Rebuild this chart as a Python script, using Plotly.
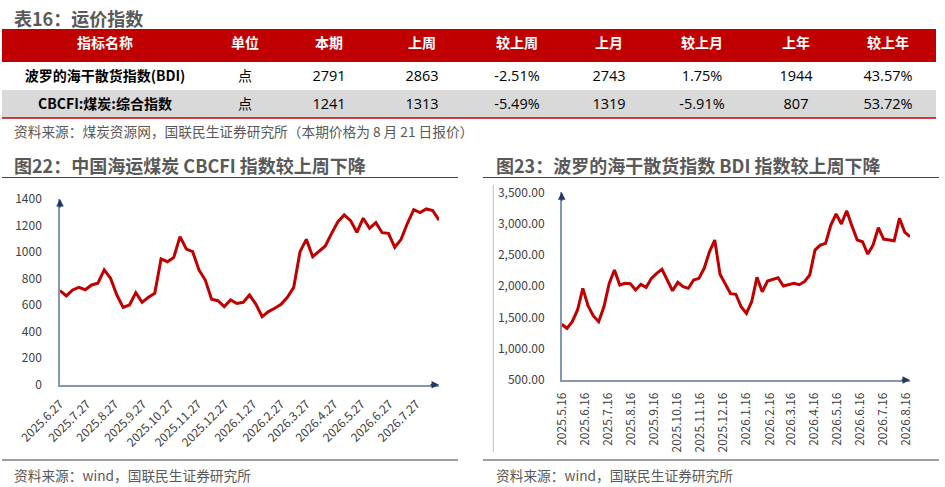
import pandas as pd
import plotly.graph_objects as go

# ---- table 16 data
table_header = ["指标名称", "单位", "本期", "上周", "较上周", "上月", "较上月", "上年", "较上年"]
index_names = ["波罗的海干散货指数(BDI)", "CBCFI:煤炭:综合指数"]
units = ["点", "点"]
this_week = [2791, 1241]
last_week = [2863, 1313]
wow = ["-2.51%", "-5.49%"]
last_month = [2743, 1319]
mom = ["1.75%", "-5.91%"]
last_year = [1944, 807]
yoy = ["43.57%", "53.72%"]

# ---- fig 22: CBCFI weekly
cbcfi_start = "2025-06-27"
cbcfi = [
    710, 669, 714, 734, 716, 752, 765, 865, 802, 676,
    583, 601, 694, 621, 659, 689, 948, 927, 958, 1116,
    1023, 1003, 865, 789, 644, 633, 588, 639, 612, 621,
    676, 608, 513, 551, 576, 606, 659, 734, 1003, 1096,
    965, 1003, 1046, 1141, 1229, 1280, 1237, 1149, 1255, 1179,
    1222, 1146, 1141, 1036, 1096, 1217, 1319, 1297, 1325, 1313,
    1241,
]
cbcfi_ticks = [
    "2025.6.27", "2025.7.27", "2025.8.27", "2025.9.27", "2025.10.27",
    "2025.11.27", "2025.12.27", "2026.1.27", "2026.2.27", "2026.3.27",
    "2026.4.27", "2026.5.27", "2026.6.27", "2026.7.27",
]

# ---- fig 23: BDI weekly
bdi_start = "2025-05-16"
bdi = [
    1390, 1326, 1432, 1619, 1965, 1683, 1523, 1432, 1671, 2045,
    2258, 2018, 2045, 2040, 1938, 2029, 1981, 2125, 2205, 2269,
    2098, 1927, 2061, 1991, 1965, 2098, 2125, 2285, 2551, 2737,
    2190, 2030, 1880, 1870, 1671, 1565, 1751, 2141, 1911, 2082,
    2109, 2135, 2002, 2029, 2045, 2023, 2071, 2178, 2577, 2657,
    2684, 2977, 3153, 2993, 3205, 2961, 2737, 2710, 2513, 2657,
    2934, 2753, 2743, 2726, 3084, 2863, 2791,
]
bdi_ticks = [
    "2025.5.16", "2025.6.16", "2025.7.16", "2025.8.16", "2025.9.16",
    "2025.10.16", "2025.11.16", "2025.12.16", "2026.1.16", "2026.2.16",
    "2026.3.16", "2026.4.16", "2026.5.16", "2026.6.16", "2026.7.16",
    "2026.8.16",
]

W, H = 945, 487
FONT = "Noto Sans CJK SC, Noto Sans, sans-serif"
NUM_FONT = "Open Sans, Noto Sans CJK SC, sans-serif"
RED = "#C00000"
GREY_TXT = "#595959"
AX_LINE = "#8497B0"
AX_HEAD = "#1F3864"


def px(x):
    return x / W


def py(y):
    return 1 - y / H


cbcfi_dates = pd.date_range(cbcfi_start, periods=len(cbcfi), freq="7D")
bdi_dates = pd.date_range(bdi_start, periods=len(bdi), freq="7D")
cbcfi_tickvals = [pd.to_datetime(t, format="%Y.%m.%d") for t in cbcfi_ticks]
bdi_tickvals = [pd.to_datetime(t, format="%Y.%m.%d") for t in bdi_ticks]

fig = go.Figure()

# table (no html tags in the cells, so plotly keeps the given row heights)
fig.add_trace(
    go.Table(
        domain=dict(x=[px(2), px(936)], y=[py(125), py(29)]),
        columnwidth=[206, 74, 94, 92, 98, 86, 100, 88, 96],
        header=dict(
            values=table_header,
            fill_color=RED,
            line=dict(color=RED, width=0),
            align="center",
            font=dict(family=FONT, size=14, color="white", weight="bold"),
            height=33,
        ),
        cells=dict(
            values=[
                index_names,
                units,
                this_week,
                last_week,
                wow,
                last_month,
                mom,
                last_year,
                yoy,
            ],
            fill_color=[["white", "#D9D9D9"]] * 9,
            line=dict(color=[["white", "#D9D9D9"]] * 9, width=0),
            align="center",
            font=dict(
                family=[FONT, FONT] + [NUM_FONT] * 7,
                size=[14, 14] + [14.5] * 7,
                color="#000000",
                weight=["bold"] + ["normal"] * 8,
            ),
            height=28,
        ),
    )
)

# lines
fig.add_trace(
    go.Scatter(
        x=cbcfi_dates, y=cbcfi, mode="lines",
        line=dict(color=RED, width=3), xaxis="x", yaxis="y",
        showlegend=False,
    )
)
fig.add_trace(
    go.Scatter(
        x=bdi_dates, y=bdi, mode="lines",
        line=dict(color=RED, width=3), xaxis="x2", yaxis="y2",
        showlegend=False,
    )
)

tick_font = dict(family=FONT, size=12, color="#404040")
common = dict(
    showgrid=False, zeroline=False, showline=True, linecolor=AX_LINE,
    linewidth=1.5, ticks="outside", tickcolor="rgba(0,0,0,0)",
    tickfont=tick_font, fixedrange=True, automargin=False,
)

fig.update_layout(
    width=W,
    height=H,
    autosize=False,
    margin=dict(l=0, r=0, t=0, b=0, pad=0, autoexpand=False),
    paper_bgcolor="white",
    plot_bgcolor="white",
    font=dict(family=FONT),
    showlegend=False,
    xaxis=dict(
        domain=[px(60), px(439)], anchor="y", type="date",
        range=[cbcfi_dates[0], cbcfi_dates[-1]],
        tickvals=cbcfi_tickvals, ticktext=cbcfi_ticks, tickangle=-45,
        ticklen=6, **common,
    ),
    yaxis=dict(
        domain=[py(384.7), py(199)], anchor="x", range=[0, 1400],
        tickvals=list(range(0, 1401, 200)), ticklen=14, **common,
    ),
    xaxis2=dict(
        domain=[px(561.7), px(910)], anchor="y2", type="date",
        range=[bdi_dates[0], bdi_dates[-1]],
        tickvals=bdi_tickvals, ticktext=bdi_ticks, tickangle=-90,
        ticklen=6, **common,
    ),
    yaxis2=dict(
        domain=[py(380), py(192.3)], anchor="x2", range=[500, 3500],
        dtick=500, tickformat=",.2f", ticklen=13, **common,
    ),
)

# arrow heads on the axes
arrow = dict(showarrow=True, arrowhead=2, arrowsize=1, arrowwidth=1.5,
             arrowcolor=AX_HEAD, text="")
fig.add_annotation(x=cbcfi_dates[-1], y=0, xref="x", yref="y", ax=-10, ay=0, **arrow)
fig.add_annotation(x=cbcfi_dates[0], y=1400, xref="x", yref="y", ax=0, ay=10, **arrow)
fig.add_annotation(x=bdi_dates[-1], y=500, xref="x2", yref="y2", ax=-10, ay=0, **arrow)
fig.add_annotation(x=bdi_dates[0], y=3500, xref="x2", yref="y2", ax=0, ay=10, **arrow)

# titles and sources
title_font = dict(family=FONT, size=18, color=GREY_TXT)
src_font = dict(family=FONT, size=13.7, color=GREY_TXT)
texts = [
    (12, 18, "<b>表16：运价指数</b>", title_font),
    (12, 131, "资料来源：煤炭资源网，国联民生证券研究所（本期价格为 8 月 21 日报价）", src_font),
    (12, 165, "<b>图22：中国海运煤炭 CBCFI 指数较上周下降</b>", title_font),
    (494, 165, "<b>图23：波罗的海干散货指数 BDI 指数较上周下降</b>", title_font),
    (12, 475, "资料来源：wind，国联民生证券研究所", src_font),
    (494, 475, "资料来源：wind，国联民生证券研究所", src_font),
]
for x, y, t, f in texts:
    fig.add_annotation(
        x=px(x), y=py(y), xref="paper", yref="paper", text=t,
        showarrow=False, xanchor="left", yanchor="middle", font=f,
    )

# rules
rules = [
    (2, 118, 936, 118, RED, 1.5),
    (2, 177.5, 458, 177.5, "#404040", 1.2),
    (2, 460, 458, 460, "#404040", 1.2),
    (483, 177.5, 939, 177.5, "#404040", 1.2),
    (483, 460, 939, 460, "#404040", 1.2),
    (493.3, 185, 493.3, 452, "#BFBFBF", 1),
]
for x0, y0, x1, y1, c, w in rules:
    fig.add_shape(
        type="line", xref="paper", yref="paper",
        x0=px(x0), y0=py(y0), x1=px(x1), y1=py(y1),
        line=dict(color=c, width=w),
    )

# the page body has a default 8px margin; drop it so the figure fills the window
fig.write_html(
    "out.html",
    config={"displayModeBar": False},
    post_script="document.body.style.margin='0px';",
)
